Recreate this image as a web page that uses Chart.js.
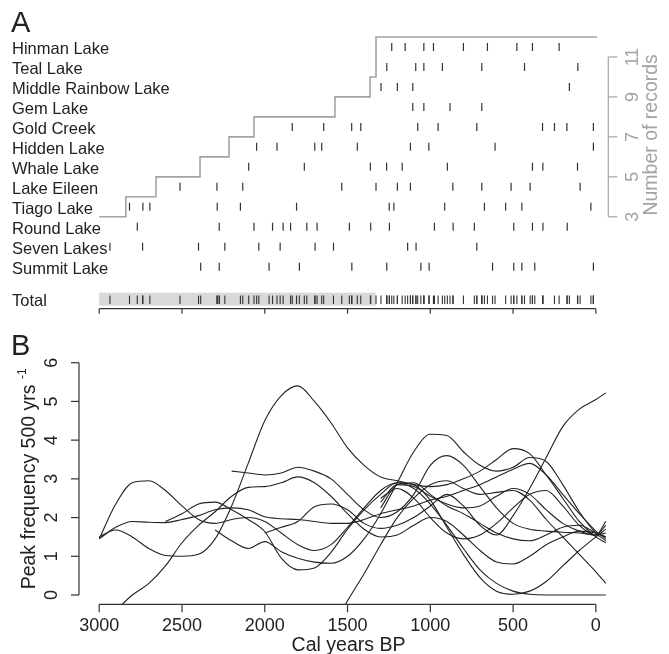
<!DOCTYPE html>
<html>
<head>
<meta charset="utf-8">
<script src="https://cdn.jsdelivr.net/npm/chart.js@4.4.1/dist/chart.umd.min.js"></script>
<style>
    html, body { margin: 0; padding: 0; background: #fff; }
    #wrap { position: relative; width: 669px; height: 654px; }
    canvas { position: absolute; left: 0; }
    #chartA { top: 0; }
    #chartB { top: 320px; }
</style>
</head>
<body>
<div id="wrap">
    <canvas id="chartA" width="669" height="320"></canvas>
    <canvas id="chartB" width="669" height="334"></canvas>
</div>
<script>
"use strict";

const FONT = "'Liberation Sans', Arial, Helvetica, sans-serif";
const INK = "#222";
const GREY = "#a3a3a3";

// panel A - charcoal peaks, cal yr BP
const lakeNames = ["Hinman Lake", "Teal Lake", "Middle Rainbow Lake", "Gem Lake", "Gold Creek", "Hidden Lake",
    "Whale Lake", "Lake Eileen", "Tiago Lake", "Round Lake", "Seven Lakes", "Summit Lake"];
const hinmanLake = [1233, 1152, 1039, 981, 800, 655, 477, 383, 222];
const tealLake = [1263, 1088, 1039, 927, 689, 431, 109];
const middleRainbowLake = [1298, 1199, 1106, 160];
const gemLake = [1106, 1039, 881, 689];
const goldCreek = [1834, 1644, 1475, 1420, 1076, 953, 719, 322, 250, 175, 15];
const hiddenLake = [2049, 1926, 1698, 1656, 1441, 1120, 1009, 609, 15];
const whaleLake = [2097, 1761, 1362, 1264, 1170, 897, 383, 320, 111];
const lakeEileen = [2512, 2289, 2133, 1535, 1328, 1199, 1120, 864, 689, 512, 397, 95];
const tiagoLake = [2817, 2736, 2694, 2287, 2147, 1808, 1248, 1220, 913, 673, 545, 447, 30];
const roundLake = [2770, 2275, 2065, 1953, 1889, 1844, 1746, 1684, 1489, 1360, 1247, 975, 862, 734, 496, 383, 320, 173];
const sevenLakes = [2935, 2738, 2400, 2241, 2036, 1907, 1696, 1585, 1137, 1086, 719];
const summitLake = [2387, 2275, 1974, 1791, 1474, 1263, 1057, 1007, 624, 496, 447, 369, 15];
const lakeEvents = [hinmanLake, tealLake, middleRainbowLake, gemLake, goldCreek, hiddenLake,
    whaleLake, lakeEileen, tiagoLake, roundLake, sevenLakes, summitLake];

// number of records through time
const recordYears = [3000, 2839, 2657, 2391, 2216, 2065, 1576, 1364, 1328, -8];
const recordCounts = [3, 4, 5, 6, 7, 8, 9, 10, 12, 12];
const recordTicks = [3, 5, 7, 9, 11];
const totalShade = [3000, 1330];

// panel B - peak frequency per 500 yr
const freqYears = [3000, 2900, 2800, 2700, 2600, 2500, 2400, 2300, 2200, 2100, 2000, 1900, 1800, 1700, 1600, 1500,
    1400, 1300, 1200, 1100, 1000, 900, 800, 700, 600, 500, 400, 300, 200, 100, 0, -60];
const freq1 = [1.5, 1.68, 1.5, 1.2, 1.02, 1.0, 1.05, 1.45, 2.3, 3.4, 4.5, 5.15, 5.4, 5.0, 4.45, 3.8,
    3.35, 3.05, 2.95, 2.85, 2.8, 2.85, 3.0, 3.2, 3.5, 3.78, 3.65, 3.1, 2.5, 1.9, 1.5, 1.35];
const freq2 = [1.45, 2.35, 2.9, 2.95, 2.7, 2.3, 1.95, 1.85, 1.95, 2.0, 1.9, 1.6, 1.3, 1.15, 1.3, 1.75,
    2.25, 2.7, 2.9, 2.75, 2.35, 1.8, 1.2, 0.65, 0.3, 0.1, 0.02, 0, 0, 0, 0, 0];
const freq3 = [1.45, 1.75, 1.9, 1.88, 1.87, 1.95, 2.05, 2.2, 2.25, 2.2, 2.02, 1.97, 1.95, 1.9, 1.85, 1.85,
    1.95, 2.1, 2.2, 2.3, 2.45, 2.55, 2.7, 2.85, 3.05, 3.25, 3.4, 3.1, 2.6, 2.1, 1.65, 1.45];
const freq4 = [null, -0.4, 0.0, 0.3, 0.75, 1.35, 1.8, 2.15, 2.55, 2.78, 2.8, 2.9, 3.05, 2.9, 2.55, 2.1,
    1.7, 1.5, 1.55, 1.8, 2.0, 1.9, 1.55, 1.15, 0.85, 0.8, 1.0, 1.3, 1.5, 1.65, 1.6, 1.5];
const freq5 = [null, null, null, null, 1.9, 2.1, 2.35, 2.4, 2.2, 1.95, 1.64, 0.95, 0.65, 0.7, 1.1, 1.7,
    2.2, 2.6, 2.9, 2.85, 2.45, 1.75, 1.05, 0.45, 0.1, 0.02, 0.1, 0.35, 0.75, 1.15, 1.5, 1.7];
const freq6 = [null, null, null, null, null, null, null, 1.68, 1.4, 1.2, 1.38, 1.12, 0.95, 0.85, 0.82, 1.0,
    1.45, 2.1, 2.9, 3.7, 4.15, 4.12, 3.7, 3.35, 3.2, 3.3, 3.55, 3.45, 2.85, 2.15, 1.6, 1.4];
const freq7 = [null, null, null, null, null, null, null, null, 3.2, 3.15, 3.1, 3.15, 3.3, 3.2, 3.0, 2.6,
    2.2, 2.0, 2.15, 2.6, 3.35, 3.6, 3.35, 2.8, 2.25, 1.85, 1.7, 1.65, 1.62, 1.6, 1.55, 1.6];
const freq8 = [null, null, null, null, null, null, null, null, null, null, 1.6, 1.75, 1.9, 2.28, 2.35, 2.2,
    1.85, 1.72, 1.8, 2.0, 2.3, 2.6, 2.3, 1.8, 1.55, 2.05, 2.75, 3.55, 4.35, 4.8, 5.05, 5.22];
const freq9 = [null, null, null, null, null, null, null, null, null, null, null, null, null, null, -0.9, -0.15,
    0.55, 1.3, 2.0, 2.5, 2.85, 2.95, 2.75, 2.6, 2.65, 2.7, 2.45, 1.95, 1.5, 1.05, 0.6, 0.3];
const freq10 = [null, null, null, null, null, null, null, null, null, null, null, null, null, null, null, null,
    null, 2.25, 2.85, 2.9, 2.6, 2.3, 2.1, 1.85, 1.6, 1.45, 1.4, 1.55, 1.75, 1.8, 1.6, 1.5];
const freq11 = [null, null, null, null, null, null, null, null, null, null, null, null, null, null, null, null,
    null, 2.4, 2.85, 2.8, 2.55, 2.35, 2.25, 2.3, 2.55, 2.75, 2.6, 2.2, 1.85, 1.65, 1.55, 1.8];
const freq12 = [null, null, null, null, null, null, null, null, null, null, null, null, null, null, null, null,
    null, 2.5, 2.75, 2.5, 2.0, 1.6, 1.45, 1.55, 1.85, 2.25, 2.6, 2.7, 2.3, 1.8, 1.55, 1.9];
const freqSeries = [freq1, freq2, freq3, freq4, freq5, freq6, freq7, freq8, freq9, freq10, freq11, freq12];

const yearTicks = [3000, 2500, 2000, 1500, 1000, 500, 0];
const freqTicks = [0, 1, 2, 3, 4, 5, 6];

// row positions in panel A, in "number of records" units
function rowValue(i) {
    return 11.5 - i;
}
const totalRow = -1.15;
const axisRowA = -1.6;

function vText(ctx, text, x, y, font, color) {
    ctx.save();
    ctx.translate(x, y);
    ctx.rotate(-Math.PI / 2);
    ctx.font = font;
    ctx.fillStyle = color;
    ctx.textAlign = "center";
    ctx.textBaseline = "alphabetic";
    ctx.fillText(text, 0, 0);
    ctx.restore();
}

function hLine(ctx, x0, y0, x1, y1) {
    ctx.beginPath();
    ctx.moveTo(x0, y0);
    ctx.lineTo(x1, y1);
    ctx.stroke();
}

let panelA = {
    id: "panelA",
    beforeDatasetsDraw: function (chart) {
        let ctx = chart.ctx, x = chart.scales.x, y = chart.scales.y;
        let x0 = x.getPixelForValue(totalShade[0]);
        let x1 = x.getPixelForValue(totalShade[1]);
        let yc = y.getPixelForValue(totalRow);
        ctx.save();
        ctx.fillStyle = "#d9d9d9";
        ctx.fillRect(x0, yc - 7, x1 - x0, 13);
        ctx.restore();
    },
    afterDraw: function (chart) {
        let ctx = chart.ctx, x = chart.scales.x, y = chart.scales.y;
        ctx.save();
        ctx.fillStyle = INK;
        ctx.font = "29px " + FONT;
        ctx.fillText("A", 11, 32);
        ctx.font = "16.5px " + FONT;
        for (let i = 0; i < lakeNames.length; i++) {
            ctx.fillText(lakeNames[i], 12, y.getPixelForValue(rowValue(i)) + 7.5);
        }
        ctx.fillText("Total", 12, y.getPixelForValue(totalRow) + 6);

        // time axis, no labels
        ctx.strokeStyle = "#333";
        ctx.lineWidth = 1.2;
        let ya = y.getPixelForValue(axisRowA);
        hLine(ctx, x.getPixelForValue(3000), ya, x.getPixelForValue(0), ya);
        yearTicks.forEach(function (t) {
            let px = x.getPixelForValue(t);
            hLine(ctx, px, ya, px, ya + 5);
        });

        // number of records axis
        ctx.strokeStyle = GREY;
        let xr = x.getPixelForValue(-75);
        hLine(ctx, xr, y.getPixelForValue(3), xr, y.getPixelForValue(11));
        recordTicks.forEach(function (t) {
            let py = y.getPixelForValue(t);
            hLine(ctx, xr, py, xr + 9, py);
            vText(ctx, String(t), xr + 30, py, "18px " + FONT, GREY);
        });
        vText(ctx, "Number of records", xr + 49, y.getPixelForValue(7.1), "19.5px " + FONT, GREY);
        ctx.restore();
    }
};

let panelB = {
    id: "panelB",
    afterDraw: function (chart) {
        let ctx = chart.ctx, x = chart.scales.x, y = chart.scales.y, area = chart.chartArea;
        ctx.save();
        ctx.fillStyle = INK;
        ctx.font = "29px " + FONT;
        ctx.fillText("B", 11, 35);

        ctx.strokeStyle = "#333";
        ctx.lineWidth = 1.2;
        // y axis
        let xl = area.left;
        hLine(ctx, xl, y.getPixelForValue(0), xl, y.getPixelForValue(6));
        freqTicks.forEach(function (t) {
            let py = y.getPixelForValue(t);
            hLine(ctx, xl - 8, py, xl, py);
            vText(ctx, String(t), xl - 22, py, "18px " + FONT, INK);
        });
        // y title with superscript
        ctx.save();
        ctx.translate(35, (area.top + area.bottom) / 2);
        ctx.rotate(-Math.PI / 2);
        ctx.font = "19.5px " + FONT;
        let main = "Peak frequency 500 yrs ";
        let w1 = ctx.measureText(main).width;
        ctx.font = "12px " + FONT;
        let w2 = ctx.measureText("-1").width;
        let start = -(w1 + w2) / 2;
        ctx.font = "19.5px " + FONT;
        ctx.fillText(main, start, 0);
        ctx.font = "12px " + FONT;
        ctx.fillText("-1", start + w1, -9);
        ctx.restore();

        // x axis
        let yb = area.bottom;
        hLine(ctx, x.getPixelForValue(3000), yb, x.getPixelForValue(0), yb);
        ctx.font = "18px " + FONT;
        ctx.textAlign = "center";
        yearTicks.forEach(function (t) {
            let px = x.getPixelForValue(t);
            hLine(ctx, px, yb, px, yb + 8);
            ctx.fillText(String(t), px, yb + 27);
        });
        ctx.font = "19.5px " + FONT;
        ctx.fillText("Cal years BP", (area.left + area.right) / 2 - 4, yb + 46.5);
        ctx.restore();
    }
};

let datasetsA = [{
    type: "line",
    data: recordYears.map(function (yr, i) { return {x: yr, y: recordCounts[i]}; }),
    stepped: "before",
    showLine: true,
    borderColor: GREY,
    borderWidth: 1.6,
    pointRadius: 0,
    fill: false
}];

lakeEvents.forEach(function (events, i) {
    datasetsA.push({
        data: events.map(function (yr) { return {x: yr, y: rowValue(i)}; }),
        pointStyle: "line",
        pointRotation: 90,
        pointRadius: 4,
        pointBorderWidth: 1.2,
        pointBorderColor: "#333",
        pointBackgroundColor: "#333"
    });
});

let allEvents = [];
lakeEvents.forEach(function (events) { allEvents = allEvents.concat(events); });
datasetsA.push({
    data: allEvents.map(function (yr) { return {x: yr, y: totalRow}; }),
    pointStyle: "line",
    pointRotation: 90,
    pointRadius: 4.2,
    pointBorderWidth: 1.1,
    pointBorderColor: "#333",
    pointBackgroundColor: "#333"
});

new Chart(document.getElementById("chartA"), {
    type: "scatter",
    data: {datasets: datasetsA},
    options: {
        responsive: false,
        animation: false,
        devicePixelRatio: 1,
        events: [],
        layout: {padding: {left: 79, right: 43, top: 20, bottom: 5}},
        plugins: {legend: {display: false}, tooltip: {enabled: false}},
        scales: {
            x: {type: "linear", reverse: true, min: -182, max: 3122, display: false},
            y: {type: "linear", min: -1.9, max: 12.85, display: false}
        }
    },
    plugins: [panelA]
});

let datasetsB = freqSeries.map(function (vals) {
    return {
        data: vals.map(function (v, i) { return {x: freqYears[i], y: v}; }),
        borderColor: INK,
        borderWidth: 1.1,
        pointRadius: 0,
        cubicInterpolationMode: "monotone",
        fill: false,
        spanGaps: false
    };
});

new Chart(document.getElementById("chartB"), {
    type: "line",
    data: {datasets: datasetsB},
    options: {
        responsive: false,
        animation: false,
        devicePixelRatio: 1,
        events: [],
        layout: {padding: {left: 79, right: 43, top: 33.4, bottom: 49.7}},
        plugins: {legend: {display: false}, tooltip: {enabled: false}},
        scales: {
            x: {type: "linear", reverse: true, min: -182, max: 3122, display: false},
            y: {type: "linear", min: -0.24, max: 6.24, display: false}
        }
    },
    plugins: [panelB]
});
</script>
</body>
</html>
